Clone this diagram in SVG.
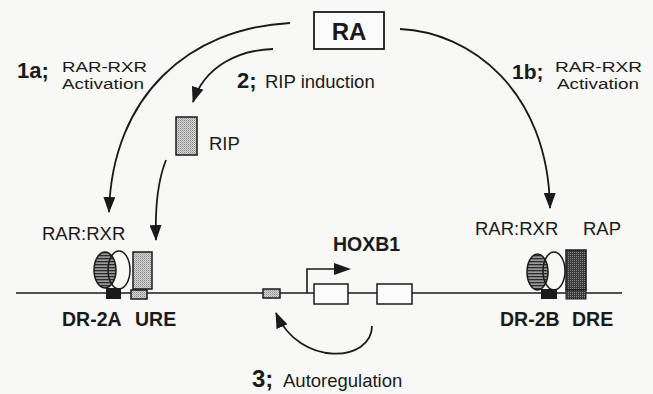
<svg xmlns="http://www.w3.org/2000/svg" width="653" height="394" viewBox="0 0 653 394">
<defs>
<style>
.t{font-family:"Liberation Sans",Arial,sans-serif;fill:#1a1a1a;font-size:18.5px}
.s{font-family:"Liberation Sans",Arial,sans-serif;fill:#1a1a1a;font-size:15.5px}
.b{font-family:"Liberation Sans",Arial,sans-serif;fill:#1a1a1a;font-weight:bold;font-size:19.5px}
.n{font-family:"Liberation Sans",Arial,sans-serif;fill:#1a1a1a;font-weight:bold;font-size:22px}
.c{fill:none;stroke:#1a1a1a;stroke-width:1.8}
.o{stroke:#1a1a1a;stroke-width:1.5}
</style>
<pattern id="hatch" width="4" height="3" patternUnits="userSpaceOnUse">
<rect width="4" height="3" fill="#9a9a9a"/>
<rect width="4" height="1.3" fill="#2a2a2a"/>
</pattern>
<pattern id="stip" width="2" height="2" patternUnits="userSpaceOnUse">
<rect width="2" height="2" fill="#d8d8d8"/>
<rect width="1" height="1" fill="#8a8a8a"/>
<rect x="1" y="1" width="1" height="1" fill="#a8a8a8"/>
</pattern>
<pattern id="dark" width="2" height="2" patternUnits="userSpaceOnUse">
<rect width="2" height="2" fill="#3a3a3a"/>
<rect width="1" height="1" fill="#8a8a8a"/>
</pattern>
<marker id="ah" viewBox="0 0 16 12" refX="15" refY="6" markerWidth="16" markerHeight="12" markerUnits="userSpaceOnUse" orient="auto">
<path d="M0,0 L16,6 L0,12 z" fill="#1a1a1a"/>
</marker>
</defs>
<rect width="653" height="394" fill="#f8f8f6"/>

<g id="dna">
<line x1="16" y1="293" x2="622" y2="293" stroke="#1a1a1a" stroke-width="1.6"/>
</g>

<g id="connectors">
<path class="c" d="M290,23 C190,28 112,95 109,212" marker-end="url(#ah)"/>
<path class="c" d="M273,49 C240,50 205,65 193,102" marker-end="url(#ah)"/>
<path class="c" d="M400,29 C470,32 548,90 550,208" marker-end="url(#ah)"/>
<path class="c" d="M166,160 C158,180 155,210 156,240" marker-end="url(#ah)"/>
<path class="c" d="M372,326 C372,362 300,368 276,313" marker-end="url(#ah)"/>
</g>

<g id="ra">
<rect x="314" y="12" width="70" height="37" fill="#fbfbfb" stroke="#1a1a1a" stroke-width="1.8"/>
<text x="349" y="39.5" text-anchor="middle" class="n" style="font-size:24px">RA</text>
</g>

<g id="label-1a">
<text x="17" y="78" class="n">1a;</text>
<text x="62" y="72" class="s" textLength="85" lengthAdjust="spacingAndGlyphs">RAR-RXR</text>
<text x="62" y="89" class="s" textLength="82" lengthAdjust="spacingAndGlyphs">Activation</text>
</g>

<g id="label-2">
<text x="237" y="88" class="n">2;</text>
<text x="265" y="88" class="t">RIP induction</text>
</g>

<g id="label-1b">
<text x="512" y="79" class="n" style="font-size:21px">1b;</text>
<text x="555" y="72" class="s" textLength="87" lengthAdjust="spacingAndGlyphs">RAR-RXR</text>
<text x="557" y="89" class="s" textLength="82" lengthAdjust="spacingAndGlyphs">Activation</text>
</g>

<g id="rip">
<rect x="176" y="117" width="21" height="38" fill="url(#stip)" class="o"/>
<text x="209" y="150" class="t">RIP</text>
</g>

<g id="left-complex">
<text x="42" y="240" class="t">RAR:RXR</text>
<ellipse cx="105" cy="270" rx="11" ry="18" fill="url(#hatch)" class="o"/>
<ellipse cx="119" cy="270" rx="11" ry="19" fill="none" class="o"/>
<rect x="106" y="288" width="15" height="11" fill="#1a1a1a"/>
<rect x="133" y="252" width="19" height="37" fill="url(#stip)" class="o"/>
<rect x="131" y="290" width="16" height="9" fill="url(#stip)" class="o"/>
<text x="62" y="326" class="b">DR-2A</text>
<text x="135" y="326" class="b">URE</text>
</g>

<g id="hoxb1">
<rect x="263" y="289" width="17" height="9" fill="url(#stip)" class="o"/>
<polyline points="307,293 307,269 336,269" fill="none" stroke="#1a1a1a" stroke-width="1.6"/>
<path d="M334,263 L351,269 L334,275 z" fill="#1a1a1a"/>
<rect x="314" y="284" width="34" height="20" fill="#fbfbfb" class="o"/>
<rect x="377" y="284" width="35" height="20" fill="#fbfbfb" class="o"/>
<text x="333" y="251" class="b">HOXB1</text>
</g>

<g id="label-3">
<text x="252" y="387" class="n" style="font-size:24px">3;</text>
<text x="283" y="387" class="t">Autoregulation</text>
</g>

<g id="right-complex">
<text x="475" y="235" class="t">RAR:RXR</text>
<text x="583" y="235" class="t">RAP</text>
<ellipse cx="537.5" cy="272" rx="10.5" ry="18" fill="url(#hatch)" class="o"/>
<ellipse cx="554" cy="271" rx="11" ry="19" fill="none" class="o"/>
<rect x="541" y="289" width="16" height="10" fill="#1a1a1a"/>
<rect x="566" y="250" width="20" height="40" fill="url(#dark)" class="o"/>
<rect x="566" y="290" width="20" height="9" fill="url(#dark)" stroke="#1a1a1a" stroke-width="1"/>
<text x="500" y="326" class="b">DR-2B</text>
<text x="572" y="326" class="b">DRE</text>
</g>
</svg>
